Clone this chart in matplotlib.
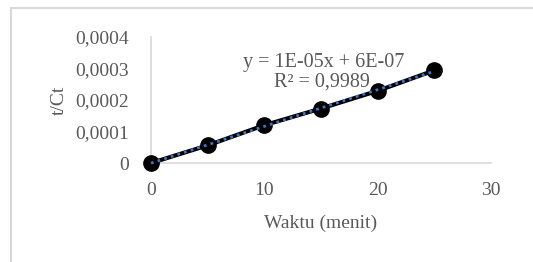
import numpy as np
import matplotlib.pyplot as plt
from matplotlib.patches import Rectangle
from matplotlib.ticker import FuncFormatter

# data
waktu = [0, 5, 10, 15, 20, 25]
t_ct = [0.0, 0.000056, 0.000120, 0.000173, 0.000229, 0.000294]

plt.rcParams['font.family'] = ['Liberation Serif', 'DejaVu Serif']

fig = plt.figure(figsize=(5.33, 2.62), dpi=100)
ax = fig.add_axes([151/533, 1 - 163/262, (491 - 151)/533, (163 - 37)/262])

# outer chart frame (cut at right and bottom)
fig.patches.append(Rectangle((11/533, -0.1), 1.0, 1 - 8/262 + 0.1, transform=fig.transFigure,
                             fill=False, edgecolor='#d9d9d9', linewidth=1.5, zorder=0))

ax.plot(waktu, t_ct, color='black', linewidth=3, marker='o', markersize=11, zorder=3, clip_on=False)

# linear trendline
m, c = np.polyfit(waktu, t_ct, 1)
xs = np.array([waktu[0], waktu[-1]])
ax.plot(xs, m * xs + c, color='#4472c4', linestyle=(0, (1, 1.5)), linewidth=2, zorder=4, clip_on=False)

ax.set_xlim(0, 30)
ax.set_ylim(0, 0.0004)
ax.set_xticks([0, 10, 20, 30])
ax.set_yticks([0, 0.0001, 0.0002, 0.0003, 0.0004])
ax.yaxis.set_major_formatter(FuncFormatter(lambda v, p: '0' if v == 0 else f'{v:.4f}'.replace('.', ',')))

for s in ['top', 'right']:
    ax.spines[s].set_visible(False)
ax.spines['left'].set_color('#d9d9d9')
ax.spines['bottom'].set_color('#d9d9d9')
ax.spines['left'].set_linewidth(1.2)
ax.spines['bottom'].set_linewidth(1.2)
ax.tick_params(length=0, labelsize=14, labelcolor='#595959')
ax.tick_params(axis='x', pad=14)
ax.tick_params(axis='y', pad=16)

ax.set_xlabel('Waktu (menit)', fontsize=14, color='#595959', labelpad=11)
ax.set_ylabel('t/Ct', fontsize=14, color='#595959', labelpad=5)

fig.text(324/533, 1 - 62/262, 'y = 1E-05x + 6E-07', ha='center', va='center', fontsize=14.5, color='#595959')
fig.text(322/533, 1 - 82/262, 'R² = 0,9989', ha='center', va='center', fontsize=14.5, color='#595959')

fig.savefig('out.png', dpi=100, facecolor='white')
